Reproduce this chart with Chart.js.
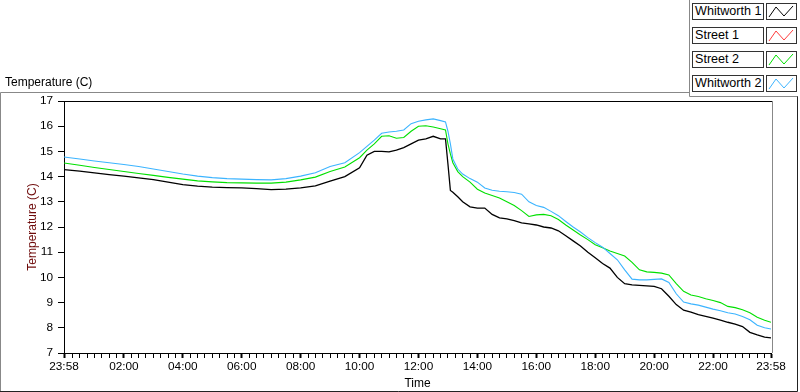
<!DOCTYPE html>
<html>
<head>
<meta charset="utf-8">
<script src="https://cdn.jsdelivr.net/npm/chart.js@4.4.1/dist/chart.umd.min.js"></script>
<style>
  html, body { margin: 0; padding: 0; background: #fff; }
  #wrap { position: relative; width: 800px; height: 392px; overflow: hidden; font-family: "Liberation Sans", Arial, sans-serif; }
  #plot { position: absolute; left: 0; top: 0; }
  #title { position: absolute; left: 5px; top: 75px; font-size: 12px; color: #000; white-space: nowrap; }
  #legend { position: absolute; left: 692px; top: 3px; }
  .row { position: absolute; left: 0; width: 105px; height: 17px; }
  .name { position: absolute; left: 0; top: 0; width: 72px; height: 17px; box-sizing: border-box; border: 1px solid #333; background: #fff;
          font-size: 12.6px; line-height: 15px; padding-left: 2px; white-space: nowrap; }
  .swatch { position: absolute; left: 74px; top: 0; width: 31px; height: 17px; box-sizing: border-box; border: 1px solid #333; background: #fff; }
</style>
</head>
<body>
<div id="wrap">
  <canvas id="plot" width="800" height="392"></canvas>
  <div id="title">Temperature (C)</div>
  <div id="legend"></div>
</div>
<script>
// sample times (clock), the day runs 23:58 -> 23:58
const times = [
  '23:58','00:30','01:00','01:30','02:00','02:30','03:00','03:30','04:00','04:30',
  '05:00','05:30','06:00','06:30','07:00','07:30','08:00','08:30','09:00','09:30',
  '10:00','10:15','10:30','10:45','11:00','11:15','11:30','11:45','12:00','12:15',
  '12:30','12:45','12:55','13:00','13:05','13:10','13:20','13:30','13:45','14:00',
  '14:15','14:30','14:45','15:00','15:15','15:30','15:45','16:00','16:15','16:30',
  '16:45','17:00','17:15','17:30','17:45','18:00','18:15','18:30','18:45','19:00',
  '19:15','19:30','19:45','20:00','20:15','20:30','20:45','21:00','21:15','21:30',
  '21:45','22:00','22:15','22:30','22:45','23:00','23:15','23:30','23:45','23:58'
];

const whitworth1 = [
  14.28,14.22,14.15,14.08,14.02,13.95,13.88,13.78,13.68,13.62,
  13.58,13.56,13.55,13.52,13.48,13.50,13.55,13.63,13.82,14.00,
  14.35,14.85,15.00,15.00,14.98,15.05,15.15,15.30,15.45,15.50,
  15.60,15.50,15.50,14.50,13.45,13.38,13.20,13.00,12.80,12.75,
  12.75,12.50,12.36,12.32,12.25,12.16,12.12,12.08,12.00,11.96,
  11.85,11.65,11.45,11.25,11.00,10.78,10.55,10.37,10.00,9.75,
  9.70,9.68,9.66,9.64,9.55,9.25,8.92,8.70,8.62,8.52,
  8.45,8.38,8.30,8.22,8.15,8.05,7.82,7.72,7.63,7.60
];

const street1 = [];

const street2 = [
  14.54,14.45,14.36,14.28,14.20,14.12,14.05,13.97,13.90,13.83,
  13.79,13.76,13.75,13.74,13.74,13.78,13.87,13.98,14.20,14.38,
  14.75,15.05,15.30,15.60,15.62,15.52,15.55,15.80,16.00,16.02,
  15.97,15.90,15.85,15.30,14.90,14.55,14.20,14.00,13.78,13.50,
  13.35,13.25,13.15,13.00,12.85,12.65,12.42,12.48,12.50,12.45,
  12.30,12.08,11.88,11.68,11.50,11.30,11.18,11.05,10.95,10.85,
  10.60,10.30,10.22,10.20,10.17,10.10,9.75,9.45,9.30,9.24,
  9.15,9.08,9.00,8.85,8.80,8.72,8.60,8.42,8.30,8.22
];

const whitworth2 = [
  14.78,14.70,14.62,14.55,14.48,14.40,14.30,14.20,14.10,14.02,
  13.96,13.92,13.90,13.88,13.87,13.92,14.02,14.15,14.40,14.55,
  14.95,15.20,15.45,15.72,15.77,15.80,15.85,16.10,16.20,16.25,
  16.29,16.22,16.17,15.80,15.30,14.70,14.30,14.10,13.92,13.78,
  13.55,13.46,13.42,13.40,13.37,13.30,13.00,12.85,12.78,12.62,
  12.45,12.22,12.00,11.80,11.58,11.38,11.20,10.95,10.70,10.30,
  9.93,9.90,9.90,9.92,9.94,9.80,9.35,9.02,8.95,8.90,
  8.82,8.74,8.68,8.60,8.55,8.45,8.32,8.10,8.00,7.95
];

const seriesNames = ['Whitworth 1', 'Street 1', 'Street 2', 'Whitworth 2'];
const seriesColors = ['#000000', '#ff3c3c', '#00e000', '#3cb4ff'];
const seriesWidths = [1.3, 1, 1.1, 1.1];
const seriesValues = [whitworth1, street1, street2, whitworth2];

const xLabelTimes = ['23:58','02:00','04:00','06:00','08:00','10:00','12:00',
                     '14:00','16:00','18:00','20:00','22:00','23:58'];
const yMin = 7;
const yMax = 17;

const START = 23 * 60 + 58;

// clock strings -> minutes since 23:58, rolling over into the next day
function toMinutes(list) {
  let day = 0, prev = -1;
  return list.map(s => {
    const [h, m] = s.split(':').map(Number);
    let v = ((h * 60 + m) - START + 1440) % 1440 + day * 1440;
    if (v < prev) { day++; v += 1440; }
    prev = v;
    return v;
  });
}

const timeMin = toMinutes(times);
const labelMin = toMinutes(xLabelTimes);
const labelMap = {};
labelMin.forEach((v, i) => { labelMap[v] = xLabelTimes[i]; });
const majorSet = new Set(labelMin);

// minor ticks every quarter hour of clock time
const xTickValues = [0];
for (let v = 17; v < 1440; v += 15) xTickValues.push(v);
xTickValues.push(1440);

// legend (text box + swatch)
const legend = document.getElementById('legend');
seriesNames.forEach((name, i) => {
  const row = document.createElement('div');
  row.className = 'row';
  row.style.top = (i * 24) + 'px';
  row.innerHTML = '<div class="name">' + name + '</div>' +
    '<div class="swatch"><svg width="29" height="15"><polyline points="2,13 9,3 17,12 26,2" fill="none" stroke="' +
    seriesColors[i] + '" stroke-width="1"/></svg></div>';
  legend.appendChild(row);
});

const frame = {
  id: 'frame',
  beforeDraw(chart) {
    const ctx = chart.ctx;
    ctx.save();
    ctx.fillStyle = '#fff';
    ctx.fillRect(0, 0, chart.width, chart.height);
    ctx.lineWidth = 1;
    ctx.strokeStyle = '#888';
    ctx.beginPath();
    ctx.moveTo(0.5, 392); ctx.lineTo(0.5, 92.5); ctx.lineTo(689.5, 92.5);
    ctx.moveTo(689.5, 0); ctx.lineTo(689.5, 96.5); ctx.lineTo(798, 96.5);
    ctx.stroke();
    ctx.strokeStyle = '#222';
    ctx.beginPath();
    ctx.moveTo(797.5, 96.5); ctx.lineTo(797.5, 391.5); ctx.lineTo(0, 391.5);
    ctx.stroke();
    ctx.restore();
  },
  afterDraw(chart) {
    const a = chart.chartArea;
    const ctx = chart.ctx;
    ctx.save();
    ctx.lineWidth = 1;
    ctx.strokeStyle = '#000';
    ctx.beginPath();
    ctx.moveTo(a.left, a.top + 0.5); ctx.lineTo(a.right + 1, a.top + 0.5);
    ctx.stroke();
    ctx.strokeStyle = '#888';
    ctx.beginPath();
    ctx.moveTo(a.right + 1.5, a.top); ctx.lineTo(a.right + 1.5, a.bottom);
    ctx.stroke();
    ctx.restore();
  }
};

const font = { family: '"Liberation Sans", Arial, sans-serif', size: 11.8 };

new Chart(document.getElementById('plot'), {
  type: 'line',
  data: {
    datasets: seriesNames.map((name, i) => ({
      label: name,
      data: seriesValues[i].map((y, j) => ({ x: timeMin[j], y })),
      borderColor: seriesColors[i],
      borderWidth: seriesWidths[i],
      pointRadius: 0,
      tension: 0,
      fill: false,
      order: seriesNames.length - i
    }))
  },
  options: {
    responsive: false,
    animation: false,
    layout: { padding: { left: 0, top: 101, right: 29, bottom: 0 } },
    plugins: { legend: { display: false }, tooltip: { enabled: false } },
    scales: {
      x: {
        type: 'linear',
        min: 0,
        max: 1440,
        afterBuildTicks: (scale) => { scale.ticks = xTickValues.map(v => ({ value: v })); },
        afterFit: (scale) => { scale.height = 39; },
        ticks: {
          autoSkip: false,
          maxRotation: 0,
          padding: 2,
          color: '#000',
          font: font,
          callback: (value) => labelMap[value] || ''
        },
        grid: {
          drawOnChartArea: false,
          drawTicks: true,
          tickLength: 5,
          tickColor: '#000',
          tickWidth: (c) => (c.tick && majorSet.has(c.tick.value)) ? 2 : 1
        },
        border: { display: true, color: '#000', width: 1 },
        title: { display: true, text: 'Time', color: '#000', font: { family: font.family, size: 12 }, padding: { top: 0, bottom: 1 } }
      },
      y: {
        min: yMin,
        max: yMax,
        afterFit: (scale) => { scale.width = 64; },
        ticks: { stepSize: 1, padding: 5, color: '#000', font: font },
        grid: { drawOnChartArea: false, drawTicks: true, tickLength: 6, tickColor: '#000' },
        border: { display: true, color: '#000', width: 1 },
        title: { display: true, text: 'Temperature (C)', color: '#6e0a0a', font: { family: font.family, size: 12 }, padding: { top: 25, bottom: 0 } }
      }
    }
  },
  plugins: [frame]
});
</script>
</body>
</html>
